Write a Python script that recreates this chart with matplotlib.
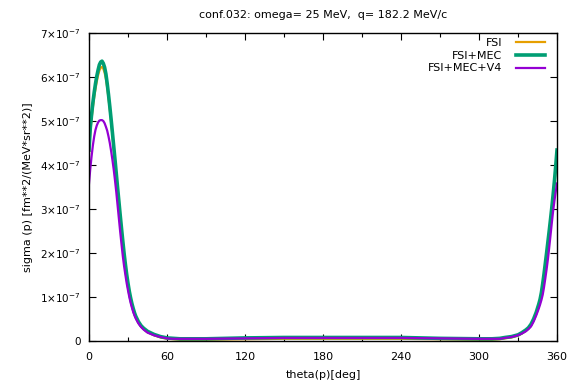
import matplotlib
matplotlib.use('Agg')
import matplotlib.pyplot as plt
from matplotlib.ticker import MultipleLocator, FuncFormatter

# theta grid [deg] and cross sections [1e-7 fm**2/(MeV*sr**2)]
theta = [0, 1, 2, 3, 4, 5, 6, 7, 8, 9, 10, 11, 12, 13, 14, 15, 16, 17, 18, 19,
         20, 21, 22, 23, 24, 25, 26, 27, 28, 29, 30, 31, 32, 33, 34, 35, 36, 38, 40, 42,
         45, 50, 55, 60, 65, 70, 80, 90, 120, 150, 180, 210, 240, 270, 300, 310, 316, 320,
         325, 330, 333, 336, 338, 340, 342, 344, 346, 347, 348, 349, 350, 351, 352, 353,
         354, 355, 356, 357, 358, 359, 360]

fsi_mec = [4.34, 4.85, 5.15, 5.42, 5.65, 5.85, 6.02, 6.16, 6.28, 6.34, 6.36, 6.31, 6.22,
           6.07, 5.85, 5.60, 5.33, 5.04, 4.74, 4.43, 4.12, 3.80, 3.48, 3.17, 2.86, 2.56,
           2.27, 1.99, 1.74, 1.51, 1.31, 1.13, 0.98, 0.85, 0.74, 0.64, 0.56, 0.44, 0.35,
           0.29, 0.22, 0.15, 0.10, 0.07, 0.06, 0.05, 0.05, 0.05, 0.07, 0.08, 0.08, 0.08,
           0.08, 0.06, 0.05, 0.05, 0.06, 0.08, 0.10, 0.14, 0.19, 0.25, 0.30, 0.38, 0.50,
           0.65, 0.84, 0.95, 1.10, 1.30, 1.52, 1.76, 2.00, 2.25, 2.50, 2.76, 3.03, 3.32,
           3.63, 3.97, 4.34]

fsi = [4.27, 4.77, 5.06, 5.32, 5.54, 5.73, 5.90, 6.04, 6.15, 6.21, 6.23, 6.19, 6.10,
       5.96, 5.76, 5.52, 5.26, 4.98, 4.69, 4.38, 4.07, 3.75, 3.43, 3.12, 2.81, 2.51,
       2.22, 1.95, 1.70, 1.47, 1.27, 1.10, 0.95, 0.82, 0.71, 0.62, 0.54, 0.42, 0.33,
       0.27, 0.20, 0.13, 0.08, 0.05, 0.04, 0.03, 0.03, 0.03, 0.04, 0.05, 0.05, 0.05,
       0.05, 0.04, 0.03, 0.03, 0.04, 0.06, 0.08, 0.12, 0.17, 0.23, 0.28, 0.36, 0.48,
       0.63, 0.82, 0.93, 1.08, 1.28, 1.50, 1.73, 1.97, 2.22, 2.47, 2.72, 2.99, 3.28,
       3.58, 3.91, 4.27]

fsi_mec_v4 = [3.58, 3.92, 4.20, 4.45, 4.65, 4.80, 4.90, 4.97, 5.01, 5.02, 5.02, 5.00,
              4.95, 4.87, 4.78, 4.65, 4.50, 4.32, 4.12, 3.90, 3.65, 3.38, 3.08, 2.78,
              2.48, 2.20, 1.93, 1.70, 1.50, 1.31, 1.15, 1.00, 0.87, 0.76, 0.66, 0.58,
              0.51, 0.40, 0.32, 0.26, 0.19, 0.13, 0.09, 0.06, 0.05, 0.05, 0.05, 0.05,
              0.06, 0.07, 0.07, 0.07, 0.07, 0.06, 0.05, 0.05, 0.05, 0.07, 0.09, 0.13,
              0.17, 0.22, 0.27, 0.33, 0.44, 0.58, 0.74, 0.83, 0.93, 1.05, 1.22, 1.42,
              1.63, 1.86, 2.12, 2.40, 2.68, 2.95, 3.18, 3.39, 3.58]

scale = 1e-7

fig = plt.figure(figsize=(5.73, 3.83), dpi=100)
ax = fig.add_axes([89/573, 42/383, 468/573, 308/383])

ax.plot(theta, [v*scale for v in fsi], color='#e69f00', lw=1.6, label='FSI')
ax.plot(theta, [v*scale for v in fsi_mec], color='#009e73', lw=2.6, label='FSI+MEC')
ax.plot(theta, [v*scale for v in fsi_mec_v4], color='#9400d3', lw=1.6, label='FSI+MEC+V4')

ax.set_xlim(0, 360)
ax.set_ylim(0, 7e-7)
ax.xaxis.set_major_locator(MultipleLocator(60))
ax.xaxis.set_minor_locator(MultipleLocator(30))
ax.yaxis.set_major_locator(MultipleLocator(1e-7))

def yfmt(v, pos):
    n = int(round(v/scale))
    if n == 0:
        return '0'
    return r'$%d{\times}10^{-7}$' % n

ax.yaxis.set_major_formatter(FuncFormatter(yfmt))
ax.tick_params(which='both', direction='in', top=True, right=True)
ax.tick_params(axis='x', labelsize=8, pad=8)
ax.tick_params(axis='y', labelsize=7.5, pad=6)
ax.tick_params(which='major', length=5, width=0.8)
ax.tick_params(which='minor', length=3, width=0.8)
for s in ax.spines.values():
    s.set_linewidth(1.0)

ax.set_xlabel('theta(p)[deg]', fontsize=8)
ax.set_ylabel('sigma (p) [fm**2/(MeV*sr**2)]', fontsize=8)
ax.xaxis.label.set_va('center')
ax.yaxis.label.set_va('center')
ax.xaxis.set_label_coords(0.5, -0.11)
ax.yaxis.set_label_coords(-0.13, 0.5)
ax.set_title('conf.032: omega= 25 MeV,  q= 182.2 MeV/c', fontsize=8, pad=11)

leg = ax.legend(loc='upper right', bbox_to_anchor=(0.987, 1.004), frameon=False,
                fontsize=8, markerfirst=False, handlelength=2.6, handletextpad=1.2,
                labelspacing=0.25, borderaxespad=0.15)
for t in leg.get_texts():
    t.set_ha('right')

fig.savefig('out.png', dpi=100)
